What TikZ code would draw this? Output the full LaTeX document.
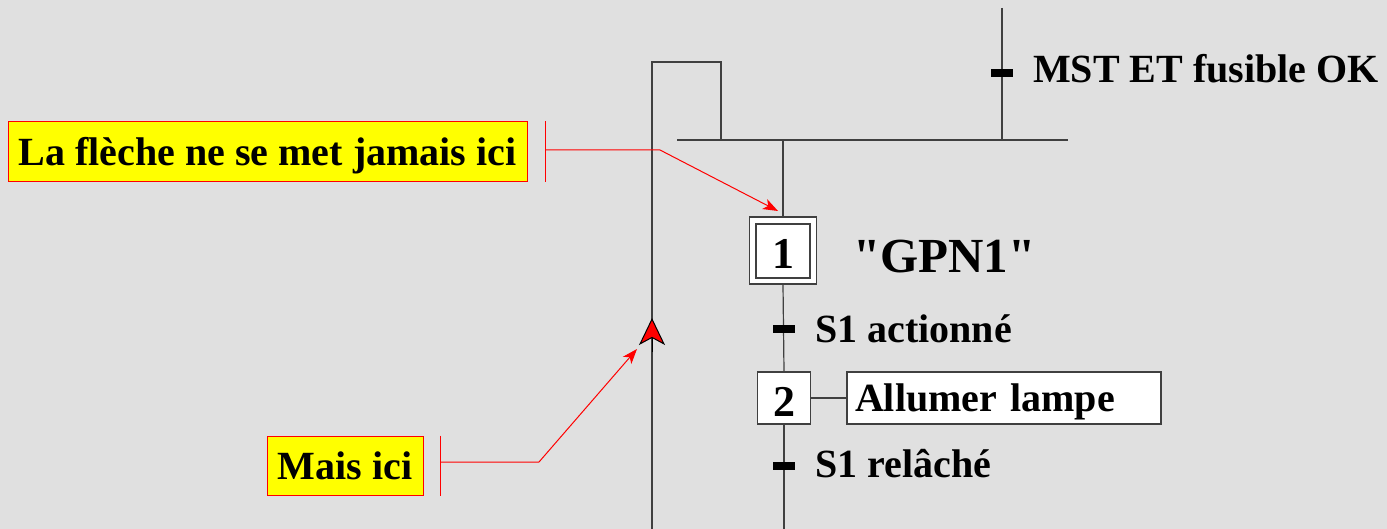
\documentclass[tikz,border=0pt]{standalone}
\usepackage{fontspec}
\setmainfont{Liberation Serif}
\newfontfamily\rawserif{Liberation Serif}[Ligatures=TeXOff]
\usetikzlibrary{arrows.meta}
\definecolor{bg}{HTML}{E0E0E0}
\definecolor{annred}{HTML}{FF0000}
\definecolor{annyel}{HTML}{FFFF00}
\definecolor{wire}{HTML}{404040}
\begin{document}
\begin{tikzpicture}[x=1pt,y=-1pt,
  wirel/.style={draw=wire,line width=1.2pt},
  tmark/.style={fill=black,minimum width=22pt,minimum height=8pt,inner sep=0pt},
  stepbox/.style={draw=wire,line width=1.2pt,fill=white,inner sep=0pt,
     font=\fontsize{44}{44}\selectfont\bfseries,text height=36pt,text depth=0pt},
  lbl/.style={anchor=base west,inner sep=0pt,font=\fontsize{40}{40}\selectfont\bfseries},
  annbox/.style={draw=annred,line width=1pt,fill=annyel,inner sep=0pt,
     font=\fontsize{40}{40}\selectfont\bfseries,text height=27pt,text depth=0pt},
  annline/.style={draw=annred,line width=1pt},
  annarrow/.style={annline,-{Stealth[length=15pt,width=11pt,inset=4pt,fill=annred]}}
]
\fill[bg] (0,0) rectangle (1387,529);
\useasboundingbox (0,0) rectangle (1387,529);

% left loop line
\coordinate (lb) at (652,529);
\coordinate (lt) at (652,62);
\coordinate (lr) at (721,62);
\coordinate (barL) at (677,140);
\coordinate (barR) at (1068,140);
\draw[wirel] (lb) -- (lt) -- (lr) -- (lr |- barL);
\draw[wirel] (barL) -- (barR);

% top branch
\coordinate (topT) at (1002,8);
\draw[wirel] (topT) -- (topT |- barL);
\node[tmark] (t0) at (1002,73) {};
\node[lbl] (t0l) at (1033,83) {MST ET fusible OK};

% steps
\node[stepbox,minimum width=67pt,minimum height=67pt] (s1o) at (783,250.5) {};
\node[stepbox,minimum width=54pt,minimum height=54pt] (s1) at (783,251) {1};
\node[anchor=base west,inner sep=0pt,font=\rawserif\fontsize{49}{49}\selectfont\bfseries] (gpn) at (853,273) {"GPN1"};
\node[stepbox,minimum width=53pt,minimum height=52pt] (s2) at (784,398) {2};
\node[draw=wire,line width=1.2pt,fill=white,minimum height=52pt,text width=298pt,inner xsep=8pt,inner ysep=0pt,
      align=left,font=\fontsize{40}{40}\selectfont\bfseries,text height=27pt,text depth=0pt] (act) at (1004,398) {Allumer lampe};
\coordinate (bot) at (784,529);

\draw[wirel] (s1o.north |- barL) -- (s1o.north);
\draw[wirel] (s1o.south) -- (s2.north);
\draw[wirel] (s2.south) -- (bot);
\draw[wirel] (s2.east) -- (act.west);

\node[tmark] (t1) at (784,329) {};
\node[lbl] (t1l) at (815,342) {S1 actionné};
\node[tmark] (t2) at (784,465.5) {};
\node[lbl] (t2l) at (815,477) {S1 relâché};

% red arrow on the left line
\coordinate (ahb) at (652,352);
\coordinate (aht) at (652,318);
\draw[draw=black,line width=1pt,-{Stealth[length=27pt,width=26pt,inset=7pt,fill=annred]}] (ahb) -- (aht);

% annotations
\node[annbox,minimum width=519pt,minimum height=60pt] (a1) at (267.5,152) {La flèche ne se met jamais ici};
\coordinate (a1t) at (545,150);
\coordinate (a1k) at (660,150);
\coordinate (a1p) at (778,211);
\draw[annline] (a1t |- a1.north) -- (a1t |- a1.south);
\draw[annarrow] (a1t) -- (a1k) -- (a1p);

\node[annbox,minimum width=156pt,minimum height=59pt] (a2) at (345,465.5) {Mais ici};
\coordinate (a2t) at (440,462);
\coordinate (a2k) at (539,462);
\coordinate (a2p) at (637,349);
\draw[annline] (a2t |- a2.north) -- (a2t |- a2.south);
\draw[annarrow] (a2t) -- (a2k) -- (a2p);
\end{tikzpicture}
\end{document}
